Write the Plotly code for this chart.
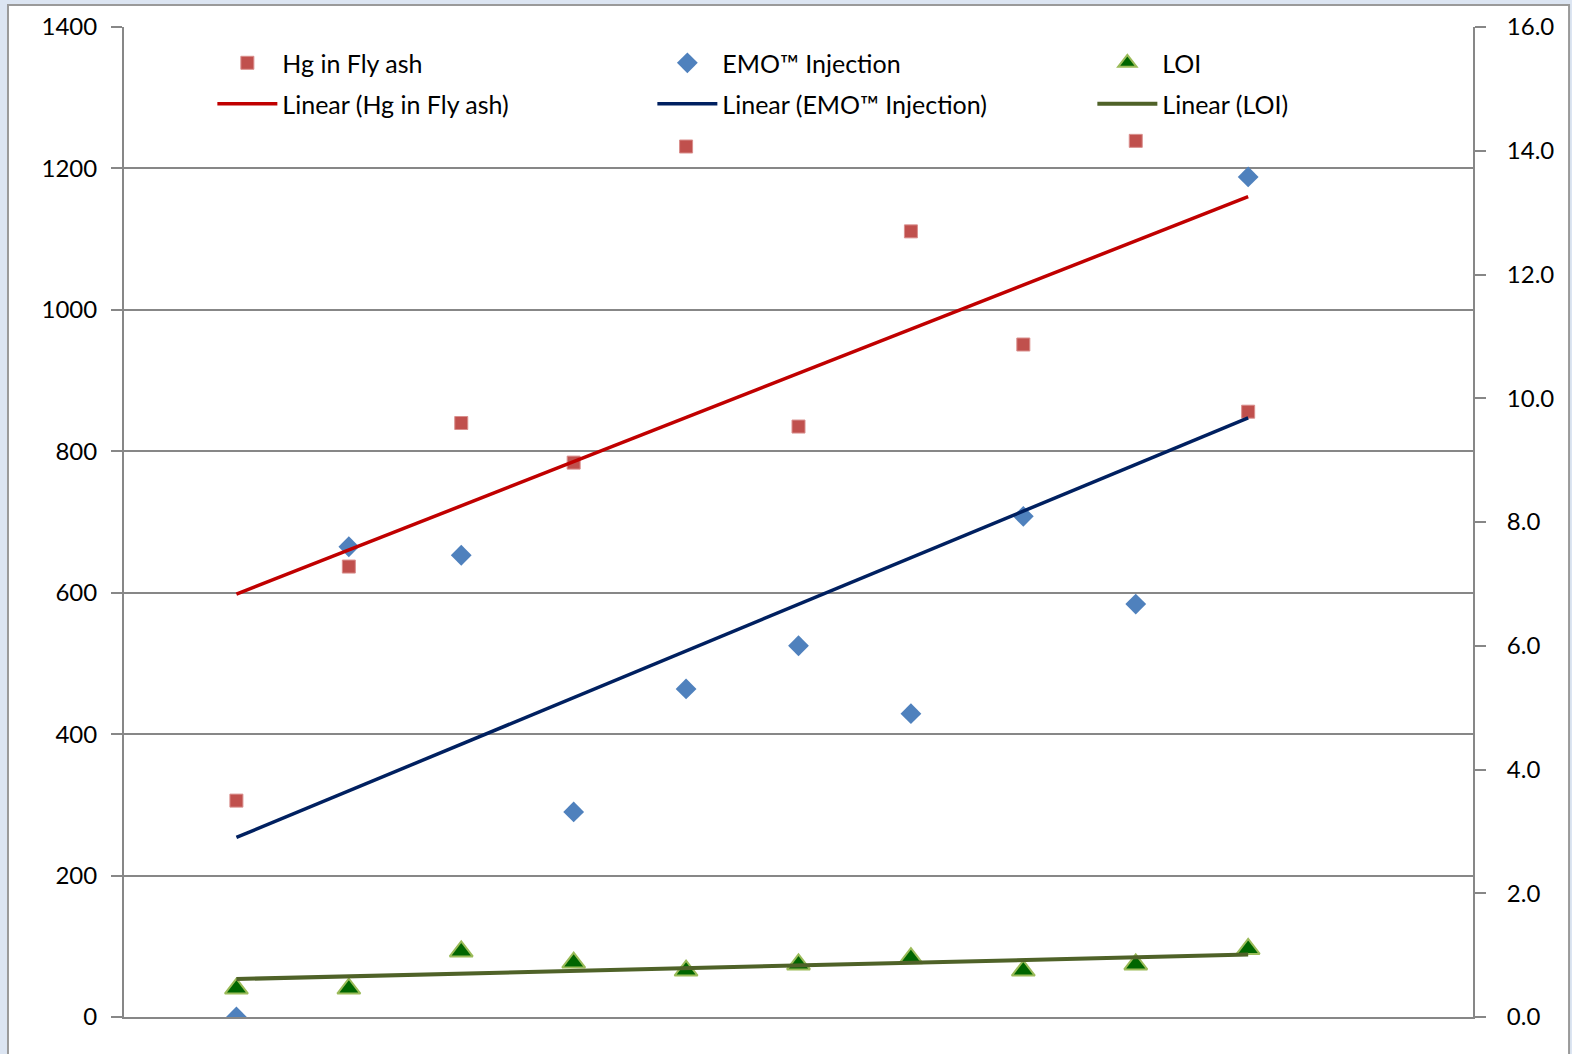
import numpy as np
import plotly.graph_objects as go

# Sample index (1..10) along the horizontal axis
samples = [1, 2, 3, 4, 5, 6, 7, 8, 9, 10]

# Hg in fly ash (left axis)
hg_fly_ash = [306, 637, 840, 784, 1231, 835, 1111, 951, 1239, 856]
# EMO(TM) injection (left axis)
emo_injection = [0, 665, 653, 290, 464, 525, 429, 708, 584, 1188]
# Loss on ignition (right axis)
loi = [0.46, 0.46, 1.06, 0.88, 0.75, 0.85, 0.95, 0.75, 0.85, 1.10]

left_ticks = [0, 200, 400, 600, 800, 1000, 1200, 1400]
right_ticks = [0, 2, 4, 6, 8, 10, 12, 14, 16]

FONT = "Lato"
GRID = "#878787"


def linear_fit(x, y):
    slope, intercept = np.polyfit(x, y, 1)
    xs = np.array([min(x), max(x)], dtype=float)
    return xs, slope * xs + intercept


fig = go.Figure()

fig.add_trace(go.Scatter(
    x=samples, y=hg_fly_ash, mode="markers", name="Hg in Fly ash",
    marker=dict(symbol="square", size=13, color="#c0504d",
                line=dict(color="#d98f8d", width=1)),
    legend="legend",
))
fig.add_trace(go.Scatter(
    x=samples, y=emo_injection, mode="markers", name="EMO™ Injection",
    marker=dict(symbol="diamond", size=16, color="#4f81bd",
                line=dict(color="#4f81bd", width=0)),
    legend="legend",
))

hx, hy = linear_fit(samples, hg_fly_ash)
fig.add_trace(go.Scatter(
    x=hx, y=hy, mode="lines", name="Linear (Hg in Fly ash)",
    line=dict(color="#c00000", width=3.5), legend="legend2",
))
ex, ey = linear_fit(samples, emo_injection)
fig.add_trace(go.Scatter(
    x=ex, y=ey, mode="lines", name="Linear (EMO™ Injection)",
    line=dict(color="#002060", width=3.5), legend="legend2",
))

fig.add_trace(go.Scatter(
    x=samples, y=loi, mode="markers", name="LOI", yaxis="y2",
    marker=dict(symbol="triangle-up", size=20, color="#006600",
                line=dict(color="#9bbb59", width=2)),
    legend="legend",
))
lx, ly = linear_fit(samples, loi)
fig.add_trace(go.Scatter(
    x=lx, y=ly, mode="lines", name="Linear (LOI)", yaxis="y2",
    line=dict(color="#4f6228", width=4), legend="legend2",
))

legend_common = dict(
    orientation="h", xref="paper", yref="paper", xanchor="left", yanchor="middle",
    font=dict(family=FONT, size=25, color="#000000"),
    bgcolor="rgba(0,0,0,0)", borderwidth=0,
    itemwidth=60, entrywidth=365, itemclick=False, itemdoubleclick=False,
)

fig.update_layout(
    width=1572, height=1054,
    margin=dict(l=124, r=99, t=27, b=37),
    paper_bgcolor="#dce5f2",
    plot_bgcolor="rgba(0,0,0,0)",
    font=dict(family=FONT, size=24, color="#000000"),
    xaxis=dict(
        range=[0, 12], showticklabels=False, ticks="", showgrid=False,
        zeroline=False, showline=True, linecolor=GRID, linewidth=2,
    ),
    yaxis=dict(
        range=[0, 1400], tickvals=left_ticks, showgrid=True, gridcolor=GRID,
        gridwidth=1.5, zeroline=False, showline=True, linecolor=GRID,
        linewidth=2, ticks="outside", ticklen=11, tickcolor=GRID, tickwidth=1.5,
        ticklabelstandoff=9,
        tickfont=dict(family=FONT, size=24, color="#000000"),
    ),
    yaxis2=dict(
        range=[0, 16], tickvals=right_ticks, tickformat=".1f", overlaying="y",
        side="right", showgrid=False, zeroline=False, showline=True,
        linecolor=GRID, linewidth=2, ticks="outside", ticklen=11,
        tickcolor=GRID, tickwidth=1.5, ticklabelstandoff=16,
        tickfont=dict(family=FONT, size=24, color="#000000"),
    ),
    legend=dict(x=0.0655, y=0.9636, **legend_common),
    legend2=dict(x=0.0655, y=0.9222, **legend_common),
    showlegend=True,
    shapes=[
        # white chart box with a thin grey frame
        dict(type="rect", xref="paper", yref="paper", layer="below",
             x0=-0.086, x1=1.0712, y0=-0.2, y1=1.0222,
             fillcolor="#ffffff", line=dict(color="#9a9a9a", width=2)),
    ],
)

fig.write_html("out.html")
